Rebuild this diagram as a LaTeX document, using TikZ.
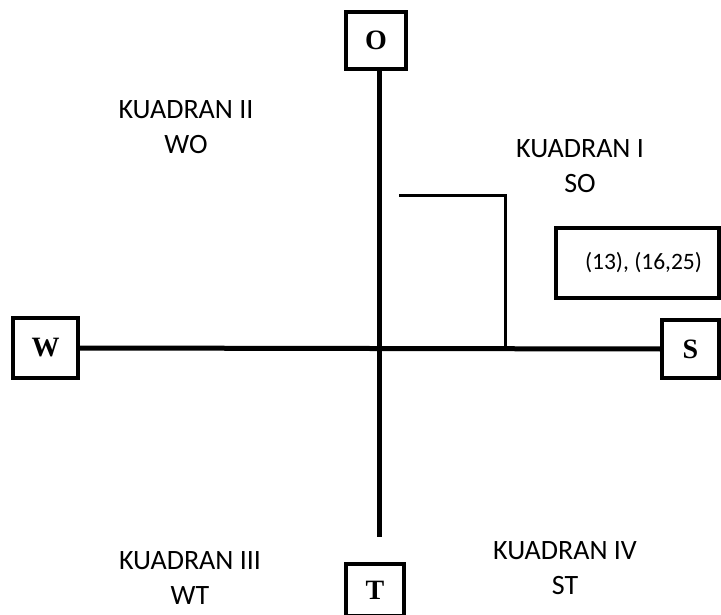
\documentclass[tikz,border=0pt]{standalone}
\usepackage{fontspec}
\setmainfont{Carlito}
\newfontfamily\letterfont{Liberation Serif}
\begin{document}
\begin{tikzpicture}[x=1pt,y=-1pt,
  axisline/.style={line width=5pt},
  bracketline/.style={line width=3pt},
  letterbox/.style={draw,line width=3.5pt,fill=white,inner sep=0pt,
    font=\letterfont\bfseries\fontsize{28}{28}\selectfont},
  valuebox/.style={draw,line width=4pt,inner sep=0pt,
    font=\fontsize{23.5}{26}\selectfont},
  quadlabel/.style={align=center,font=\fontsize{28}{35}\selectfont}]
\useasboundingbox (0,0) rectangle (721,615);

% axis end boxes
\node[letterbox,minimum width=60pt,minimum height=57pt] (O) at (376,40.5) {O};
\node[letterbox,minimum width=58pt,minimum height=52pt] (T) at (375,590) {T};
\node[letterbox,minimum width=65pt,minimum height=60pt] (W) at (45.5,348) {W};
\node[letterbox,minimum width=57pt,minimum height=58pt] (S) at (690.5,349) {S};

% axes
\coordinate (vtop) at (379,69);
\coordinate (vbot) at (379,537);
\draw[axisline] (vtop) -- (vbot);
\draw[axisline] (W.east) -- (S.west);

% position marker
\coordinate (mstart) at (399,196);
\coordinate (mcorner) at (505,196);
\coordinate (mfoot) at (505,349);
\draw[bracketline] (mstart) -- (mcorner) -- (mfoot);

% score box
\node[valuebox,minimum width=163pt,minimum height=70pt] (val) at (637.5,263) {\hspace{12pt}(13), (16,25)};

% quadrant labels
\node[quadlabel] (q2) at (186,127) {KUADRAN II\\WO};
\node[quadlabel] (q1) at (580,166) {KUADRAN I\\SO};
\node[quadlabel] (q3) at (190,578) {KUADRAN III\\WT};
\node[quadlabel] (q4) at (565,568) {KUADRAN IV\\ST};
\end{tikzpicture}
\end{document}
